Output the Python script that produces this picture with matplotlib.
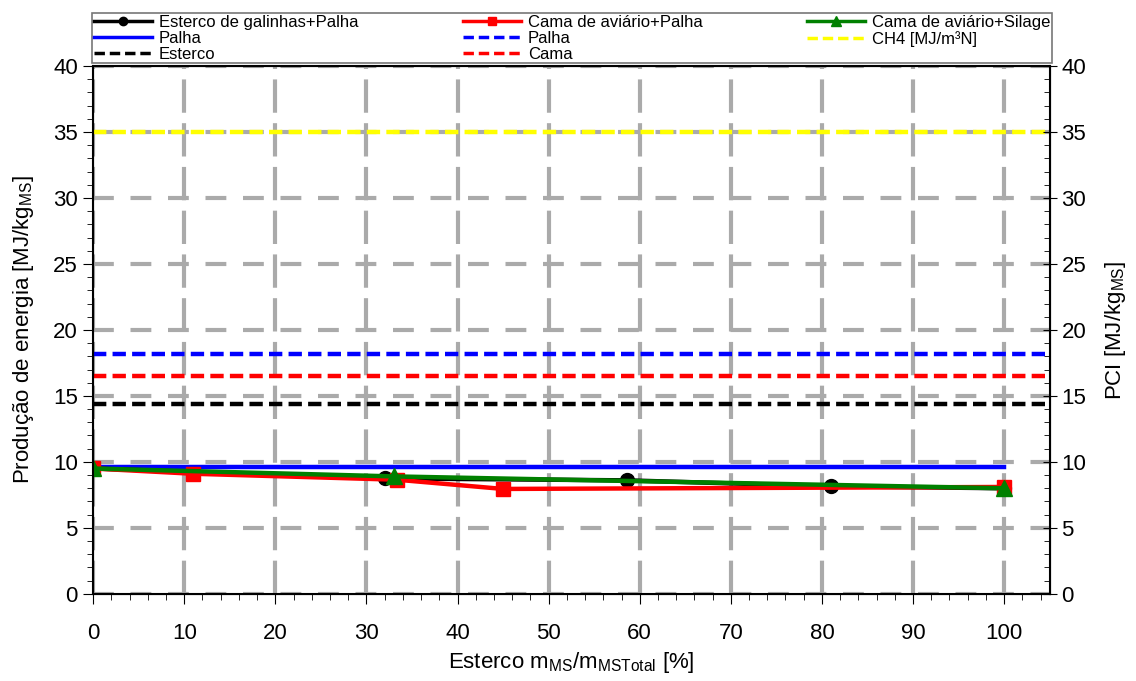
import numpy as np
import matplotlib
matplotlib.use("Agg")
import matplotlib.pyplot as plt
from matplotlib.ticker import MultipleLocator

plt.rcParams['font.family'] = ['Liberation Sans', 'DejaVu Sans']
plt.rcParams['mathtext.fontset'] = 'custom'
plt.rcParams['mathtext.rm'] = 'Liberation Sans'
plt.rcParams['mathtext.it'] = 'Liberation Sans'

# mixture series (x = % manure in dry matter, y = energy MJ/kg MS)
galinhas_x = [0, 32, 58.6, 81, 100]
galinhas_y = [9.5, 8.75, 8.6, 8.15, 8.0]
cama_palha_x = [0, 11, 33.3, 45, 100]
cama_palha_y = [9.5, 9.1, 8.65, 7.95, 8.1]
cama_silage_x = [0, 33, 100]
cama_silage_y = [9.5, 8.9, 8.0]

# reference levels
palha_energy_x = [0, 100]
palha_energy_y = [9.6, 9.6]
pci_palha = 18.2
pci_cama = 16.5
pci_esterco = 14.4
ch4_pci = 35.0

fig = plt.figure(figsize=(11.36, 6.81), dpi=100)
ax = fig.add_axes([0.082, 0.128, 0.842, 0.775])

lw = 3.2
dash = (0, (3, 1.4))
h1, = ax.plot(galinhas_x, galinhas_y, '-o', color='black', lw=lw, ms=10,
              label='Esterco de galinhas+Palha', zorder=4)
h2, = ax.plot(cama_palha_x, cama_palha_y, '-s', color='red', lw=lw, ms=10,
              label='Cama de aviário+Palha', zorder=5)
h3, = ax.plot(cama_silage_x, cama_silage_y, '-^', color='green', lw=lw, ms=11,
              label='Cama de aviário+Silage', zorder=6)
h4, = ax.plot(palha_energy_x, palha_energy_y, '-', color='blue', lw=lw,
              label='Palha', zorder=3)
h5 = ax.axhline(pci_palha, color='blue', ls=dash, lw=lw, label='Palha')
h6 = ax.axhline(ch4_pci, color='yellow', ls=dash, lw=lw, label='CH4 [MJ/m³N]')
h7 = ax.axhline(pci_esterco, color='black', ls=dash, lw=lw, label='Esterco')
h8 = ax.axhline(pci_cama, color='red', ls=dash, lw=lw, label='Cama')

ax.set_xlim(0, 105)
ax.set_ylim(0, 40)
ax.xaxis.set_major_locator(MultipleLocator(10))
ax.xaxis.set_minor_locator(MultipleLocator(2))
ax.yaxis.set_major_locator(MultipleLocator(5))
ax.yaxis.set_minor_locator(MultipleLocator(1))
ax.set_xticks(np.arange(0, 101, 10))
ax.xaxis.grid(True, which='major', color='#aaaaaa', ls=(0, (8, 2.5)), lw=3)
ax.yaxis.grid(True, which='major', color='#aaaaaa', ls=(0, (5, 4)), lw=3)
ax.set_axisbelow(True)
ax.tick_params(axis='both', which='major', labelsize=16, length=7, pad=14)
ax.tick_params(axis='both', which='minor', length=4)
ax.tick_params(axis='y', which='major', pad=4)
for s in ax.spines.values():
    s.set_linewidth(1.5)

ax.set_xlabel('Esterco m$_{MS}$/m$_{MSTotal}$ [%]', fontsize=16, labelpad=4)
ax.set_ylabel('Produção de energia [MJ/kg$_{MS}$]', fontsize=16, labelpad=12)

ax2 = ax.twinx()
ax2.set_ylim(0, 40)
ax2.yaxis.set_major_locator(MultipleLocator(5))
ax2.yaxis.set_minor_locator(MultipleLocator(1))
ax2.tick_params(axis='y', which='major', labelsize=16, direction='inout', length=10)
ax2.tick_params(axis='y', which='minor', direction='in', length=4)
ax2.set_ylabel('PCI [MJ/kg$_{MS}$]', fontsize=16, labelpad=12)

handles = [h1, h4, h7, h2, h5, h8, h3, h6]
leg = fig.legend(handles, [h.get_label() for h in handles], ncol=3,
                 loc='lower left', bbox_to_anchor=(0.081, 0.907, 0.845, 0.07),
                 mode='expand', fontsize=12, frameon=True, fancybox=False,
                 edgecolor='#555555', borderpad=0.1, labelspacing=0.05,
                 borderaxespad=0, handlelength=3.5, handletextpad=0.4,
                 markerscale=0.6)
leg.get_frame().set_linewidth(1.2)
for line in leg.get_lines():
    line.set_linewidth(2.5)

fig.savefig('out.png', dpi=100)
